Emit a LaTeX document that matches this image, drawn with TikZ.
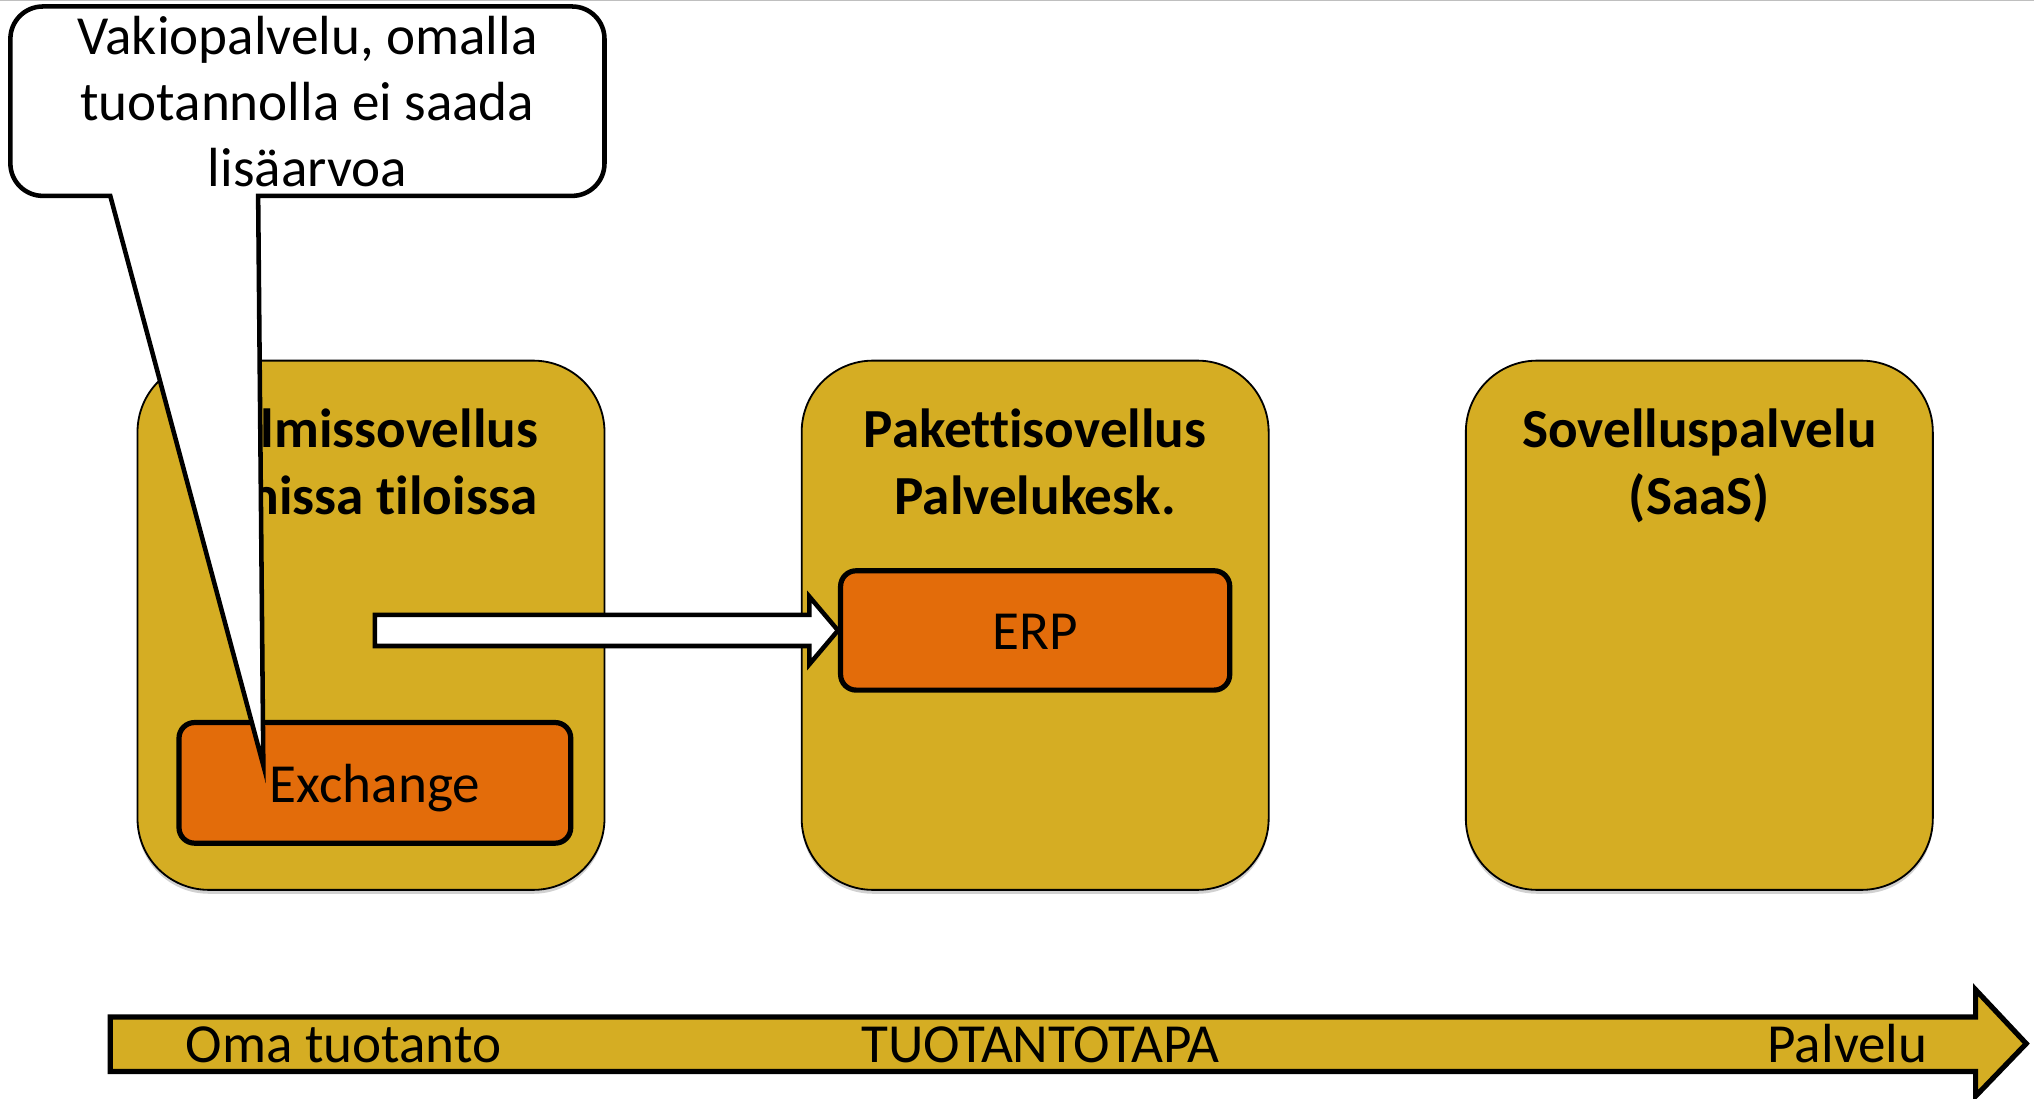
\documentclass[tikz,border=0pt]{standalone}
\usepackage{fontspec}
\setmainfont{Carlito}[Ligatures=NoCommon]
\usetikzlibrary{shadows,calc}
\definecolor{gold}{RGB}{213,173,35}
\definecolor{orng}{RGB}{227,108,10}
\begin{document}
\begin{tikzpicture}[x=1pt,y=-1pt,
  txt/.style={inner sep=0pt, font=\fontsize{42.5pt}{51pt}\selectfont, anchor=base},
  ttl/.style={txt, font=\fontsize{42.5pt}{51pt}\selectfont\bfseries},
  panel/.style={draw=black, line width=1.4pt, fill=gold, rounded corners=55pt,
    minimum width=360pt, minimum height=408pt, inner sep=0pt,
    drop shadow={shadow xshift=0pt, shadow yshift=-3pt, opacity=0.3, fill=black!60}},
  appbox/.style={draw=black, line width=4pt, fill=orng, rounded corners=12pt, inner sep=0pt},
  callout/.style={draw=black, line width=3.5pt, fill=white, line join=miter},
  blockarrow/.style={draw=black, line width=3.5pt, fill=white, line join=miter},
  axisarrow/.style={draw=black, line width=4pt, fill=gold, line join=miter}]
\useasboundingbox (0,0) rectangle (1568,847.2);
\draw[black!25, line width=1pt] (0,0.5) -- (1568,0.5);

% panels
\node[panel] (p1) at (286,482) {};
\node[panel] (p2) at (798,482) {};
\node[panel] (p3) at (1310,482) {};

\node[ttl] (p1a) at (286,345) {Valmissovellus};
\node[ttl] (p1b) at (286,397) {omissa tiloissa};
\node[ttl] (p2a) at (798,345) {Pakettisovellus};
\node[ttl] (p2b) at (798,397) {Palvelukesk.};
\node[ttl] (p3a) at (1310,345) {Sovelluspalvelu};
\node[ttl] (p3b) at (1310,397) {(SaaS)};

% application boxes
\node[appbox, minimum width=302pt, minimum height=93pt] (exch) at (289,603.5) {};
\node[txt] (exchl) at (289,619) {Exchange};
\node[appbox, minimum width=300pt, minimum height=92pt] (erp) at (798,486) {};
\node[txt] (erpl) at (798,501) {ERP};

% block arrow from Exchange area to ERP
\coordinate (from) at (289,486);
\draw[blockarrow] ($(from)+(0,-12)$) -- ($(erp.west)+(-22,-12)$) -- ($(erp.west)+(-22,-26)$)
  -- (erp.west) -- ($(erp.west)+(-22,26)$) -- ($(erp.west)+(-22,12)$) -- ($(from)+(0,12)$) -- cycle;

% callout
\draw[callout] (85,151) -- (33,151) arc[start angle=90,end angle=180,radius=25]
  -- (8,30) arc[start angle=180,end angle=270,radius=25]
  -- (441,5) arc[start angle=270,end angle=360,radius=25]
  -- (466,126) arc[start angle=0,end angle=90,radius=25]
  -- (199,151) -- (203,590) -- cycle;
\node[txt] (n1) at (237,42) {Vakiopalvelu, omalla};
\node[txt] (n2) at (237,93) {tuotannolla ei saada};
\node[txt] (n3) at (237,144) {lisäarvoa};

% production axis arrow
\draw[axisarrow] (85,784) -- (1523,784) -- (1523,763) -- (1562,804.5) -- (1523,845)
  -- (1523,826) -- (85,826) -- cycle;
\node[txt, anchor=base west] (ax1) at (143,819) {Oma tuotanto};
\node[txt] (ax2) at (802,819) {TUOTANTOTAPA};
\node[txt, anchor=base east] (ax3) at (1486,819) {Palvelu};
\end{tikzpicture}
\end{document}
